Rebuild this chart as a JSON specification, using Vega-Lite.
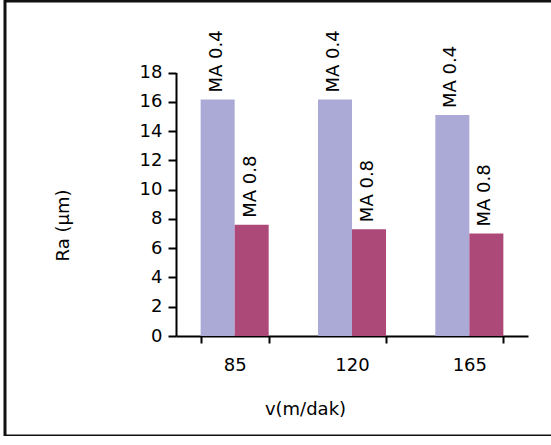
{
  "$schema": "https://vega.github.io/schema/vega-lite/v6.json",
  "autosize": "none",
  "width": 550,
  "height": 435,
  "padding": {"left": 5, "top": 1, "right": 0, "bottom": 0},
  "background": "white",
  "config": {
    "view": {"stroke": "#111111", "strokeWidth": 3},
    "font": "DejaVu Sans",
    "axis": {
      "grid": false,
      "domainColor": "black",
      "domainWidth": 2,
      "tickColor": "black",
      "tickWidth": 2,
      "labelFont": "DejaVu Sans",
      "labelFontSize": 18,
      "labelColor": "black",
      "titleFont": "DejaVu Sans",
      "titleFontSize": 18,
      "titleFontWeight": "normal",
      "titleColor": "black"
    }
  },
  "data": {
    "values": [
      {"v": 85, "series": "MA 0.4", "Ra": 16.15},
      {"v": 85, "series": "MA 0.8", "Ra": 7.6},
      {"v": 120, "series": "MA 0.4", "Ra": 16.15},
      {"v": 120, "series": "MA 0.8", "Ra": 7.3},
      {"v": 165, "series": "MA 0.4", "Ra": 15.1},
      {"v": 165, "series": "MA 0.8", "Ra": 7.0}
    ]
  },
  "encoding": {
    "x": {
      "field": "v",
      "type": "ordinal",
      "scale": {"range": [171, 523], "paddingInner": 0.42, "paddingOuter": 0.21},
      "axis": {
        "title": "v(m/dak)",
        "labelAngle": 0,
        "offset": -100,
        "tickBand": "extent",
        "tickSize": 7,
        "labelPadding": 13,
        "titleX": 300,
        "titleY": 73,
        "titleBaseline": "middle",
        "titleAlign": "center"
      }
    },
    "xOffset": {"field": "series", "type": "nominal", "scale": {"paddingInner": 0, "paddingOuter": 0}},
    "y": {
      "field": "Ra",
      "type": "quantitative",
      "scale": {"domain": [0, 18], "nice": false, "range": [335, 71.5]},
      "axis": {
        "title": "Ra (µm)",
        "values": [0, 2, 4, 6, 8, 10, 12, 14, 16, 18],
        "offset": -171,
        "tickSize": 8,
        "labelPadding": 6,
        "titleX": -113,
        "titleY": 224,
        "titleAngle": -90,
        "titleBaseline": "middle",
        "titleAlign": "center"
      }
    }
  },
  "layer": [
    {
      "mark": {"type": "bar"},
      "encoding": {
        "color": {
          "field": "series",
          "type": "nominal",
          "scale": {"domain": ["MA 0.4", "MA 0.8"], "range": ["#aba9d5", "#ad4979"]},
          "legend": null
        }
      }
    },
    {
      "mark": {"type": "text", "angle": 270, "align": "left", "baseline": "middle", "dx": 7, "dy": -1, "fontSize": 18, "font": "DejaVu Sans", "color": "black"},
      "encoding": {
        "text": {"field": "series"}
      }
    }
  ]
}
